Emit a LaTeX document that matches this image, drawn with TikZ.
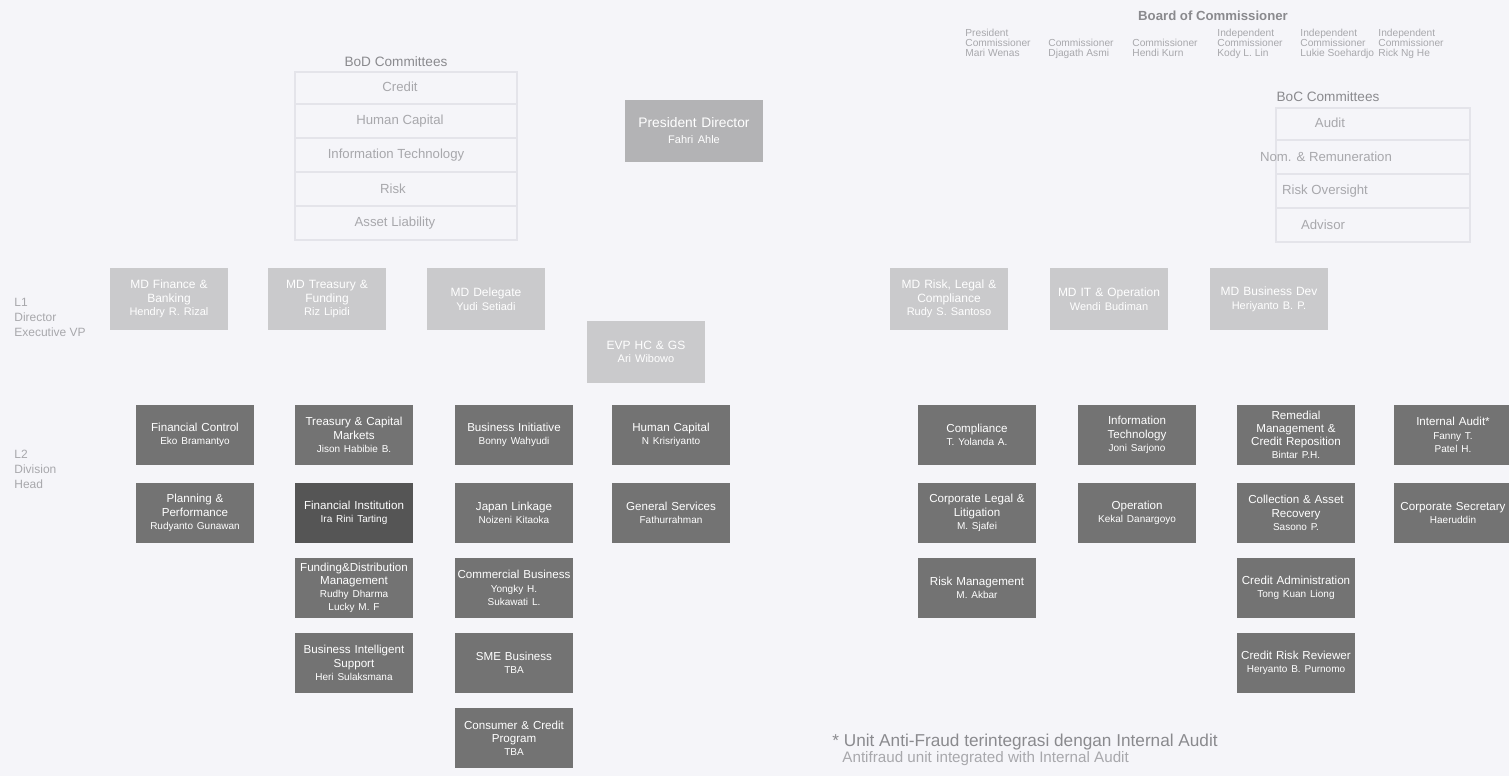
\documentclass[tikz,border=0pt]{standalone}
\usepackage{fontspec}
\setmainfont{Liberation Sans}
\definecolor{bgc}{HTML}{F5F5F9}
\definecolor{ltwo}{HTML}{737373}
\definecolor{ltwod}{HTML}{555555}
\definecolor{lone}{HTML}{CACACC}
\definecolor{pres}{HTML}{B3B3B5}
\definecolor{faint}{HTML}{A8A8AC}
\definecolor{fainter}{HTML}{E4E4EA}
\definecolor{midg}{HTML}{8A8A8E}
\newcommand{\pnm}[1]{{\fontsize{5}{6}\selectfont #1}}
\newcommand{\pnmb}[1]{{\fontsize{5.5}{6.6}\selectfont #1}}
\begin{document}
\begin{tikzpicture}[x=0.5pt,y=-0.5pt,
  box/.style={align=center,text=white,inner sep=1pt,text width=57pt,
    font=\fontsize{5.8}{6.6}\selectfont},
  ltwobox/.style={box,fill=ltwo,minimum width=58.5pt,minimum height=30pt},
  ltwodark/.style={ltwobox,fill=ltwod},
  lonebox/.style={box,fill=lone,minimum width=59pt,minimum height=31pt,font=\fontsize{6}{6.8}\selectfont},
  presbox/.style={box,fill=pres,minimum width=69pt,minimum height=31pt,text width=67pt,font=\fontsize{6.9}{8}\selectfont},
  comm/.style={text=faint,font=\fontsize{6.6}{7}\selectfont,inner sep=0pt},
  commh/.style={text=midg,font=\fontsize{6.8}{7}\selectfont,inner sep=0pt},
  bocs/.style={text=faint,font=\fontsize{5.1}{5}\selectfont,inner sep=0pt,anchor=north west,align=left},
  lvl/.style={text=faint,font=\fontsize{6}{7.5}\selectfont,inner sep=0pt,anchor=north west,align=left},
  frame/.style={draw=fainter,line width=0.6pt}]
\fill[bgc] (0,0) rectangle (1509,776);
\useasboundingbox (0,0) rectangle (1509,776);

% ---- left BoD committees
\draw[frame] (295,72) rectangle (517,240);
\draw[frame] (295,104) -- (517,104);
\draw[frame] (295,138) -- (517,138);
\draw[frame] (295,172) -- (517,172);
\draw[frame] (295,206) -- (517,206);
\node[commh] (bodc) at (396,62) {BoD Committees};
\node[comm] (cc1) at (400,87) {Credit};
\node[comm] (cc2) at (400,121) {Human Capital};
\node[comm] (cc3) at (396,155) {Information Technology};
\node[comm] (cc4) at (393,189) {Risk};
\node[comm] (cc5) at (395,223) {Asset Liability};

% ---- President Director
\node[presbox] (pd) at (694,131) {President Director\\\pnmb{Fahri Ahle}};

% ---- Board of Commissioner
\node[text=midg,font=\bfseries\fontsize{6.6}{7}\selectfont,inner sep=0pt] (boc) at (1213,16) {Board of Commissioner};
\node[bocs] (b1) at (965,29) {President\\Commissioner\\Mari Wenas};
\node[bocs] (b2) at (1048,39) {Commissioner\\Djagath Asmi};
\node[bocs] (b3) at (1132,39) {Commissioner\\Hendi Kurn};
\node[bocs] (b4) at (1217,29) {Independent\\Commissioner\\Kody L. Lin};
\node[bocs] (b5) at (1300,29) {Independent\\Commissioner\\Lukie Soehardjo};
\node[bocs] (b6) at (1378,29) {Independent\\Commissioner\\Rick Ng He};

% ---- right BoC committees
\draw[frame] (1276,108) rectangle (1470,242);
\draw[frame] (1276,140) -- (1470,140);
\draw[frame] (1276,174) -- (1470,174);
\draw[frame] (1276,208) -- (1470,208);
\node[commh] (bocc) at (1328,97) {BoC Committees};
\node[comm] (rc1) at (1330,123) {Audit};
\node[comm] (rc2) at (1326,157) {Nom. \& Remuneration};
\node[comm] (rc3) at (1325,191) {Risk Oversight};
\node[comm] (rc4) at (1323,225) {Advisor};

% ---- level labels
\node[lvl] (lv1) at (14,298) {L1\\Director\\Executive VP};
\node[lvl] (lv2) at (14,450) {L2\\Division\\Head};

% ---- L1 left
\node[lonebox] (md1) at (169,299) {MD Finance \&\\Banking\\\pnmb{Hendry R. Rizal}};
\node[lonebox] (md2) at (327,299) {MD Treasury \&\\Funding\\\pnmb{Riz Lipidi}};
\node[lonebox] (md3) at (486,299) {MD Delegate\\\pnmb{Yudi Setiadi}};
\node[lonebox] (evp) at (646,352) {EVP HC \& GS\\\pnmb{Ari Wibowo}};
% ---- L1 right
\node[lonebox] (md4) at (949,299) {MD Risk, Legal \&\\Compliance\\\pnmb{Rudy S. Santoso}};
\node[lonebox] (md5) at (1109,299) {MD IT \& Operation\\\pnmb{Wendi Budiman}};
\node[lonebox] (md6) at (1269,299) {MD Business Dev\\\pnmb{Heriyanto B. P.}};

% ---- L2 left, column 1
\node[ltwobox] (fc) at (195,435) {Financial Control\\\pnm{Eko Bramantyo}};
\node[ltwobox] (pp) at (195,513) {Planning \&\\Performance\\\pnm{Rudyanto Gunawan}};
% column 2
\node[ltwobox] (tcm) at (354,435) {Treasury \& Capital\\Markets\\\pnm{Jison Habibie B.}};
\node[ltwodark] (fi) at (354,513) {Financial Institution\\\pnm{Ira Rini Tarting}};
\node[ltwobox] (fdm) at (354,588) {Funding\&Distribution\\Management\\\pnm{Rudhy Dharma}\\\pnm{Lucky M. F}};
\node[ltwobox] (bis) at (354,663) {Business Intelligent\\Support\\\pnm{Heri Sulaksmana}};
% column 3
\node[ltwobox] (bi) at (514,435) {Business Initiative\\\pnm{Bonny Wahyudi}};
\node[ltwobox] (jl) at (514,513) {Japan Linkage\\\pnm{Noizeni Kitaoka}};
\node[ltwobox] (cb) at (514,588) {Commercial Business\\\pnm{Yongky H.}\\\pnm{Sukawati L.}};
\node[ltwobox] (sme) at (514,663) {SME Business\\\pnm{TBA}};
\node[ltwobox] (ccp) at (514,738) {Consumer \& Credit\\Program\\\pnm{TBA}};
% column 4
\node[ltwobox] (hc) at (671,435) {Human Capital\\\pnm{N Krisriyanto}};
\node[ltwobox] (gs) at (671,513) {General Services\\\pnm{Fathurrahman}};

% ---- L2 right, column 1
\node[ltwobox] (comp) at (977,435) {Compliance\\\pnm{T. Yolanda A.}};
\node[ltwobox] (cll) at (977,513) {Corporate Legal \&\\Litigation\\\pnm{M. Sjafei}};
\node[ltwobox] (rm) at (977,588) {Risk Management\\\pnm{M. Akbar}};
% column 2
\node[ltwobox] (it) at (1137,435) {Information\\Technology\\\pnm{Joni Sarjono}};
\node[ltwobox] (op) at (1137,513) {Operation\\\pnm{Kekal Danargoyo}};
% column 3
\node[ltwobox] (rmcr) at (1296,435) {Remedial\\Management \&\\Credit Reposition\\\pnm{Bintar P.H.}};
\node[ltwobox] (car) at (1296,513) {Collection \& Asset\\Recovery\\\pnm{Sasono P.}};
\node[ltwobox] (ca) at (1296,588) {Credit Administration\\\pnm{Tong Kuan Liong}};
\node[ltwobox] (crr) at (1296,663) {Credit Risk Reviewer\\\pnm{Heryanto B. Purnomo}};
% column 4
\node[ltwobox] (ia) at (1453,435) {Internal Audit*\\\pnm{Fanny T.}\\\pnm{Patel H.}};
\node[ltwobox] (cs) at (1453,513) {Corporate Secretary\\\pnm{Haeruddin}};

% ---- footnote
\node[text=midg,font=\fontsize{8.6}{9}\selectfont,inner sep=0pt,anchor=west] (fn1) at (832,742) {* Unit Anti-Fraud terintegrasi dengan Internal Audit};
\node[text=faint,font=\fontsize{7.6}{8}\selectfont,inner sep=0pt,anchor=west] (fn2) at (842,759) {Antifraud unit integrated with Internal Audit};
\end{tikzpicture}
\end{document}
